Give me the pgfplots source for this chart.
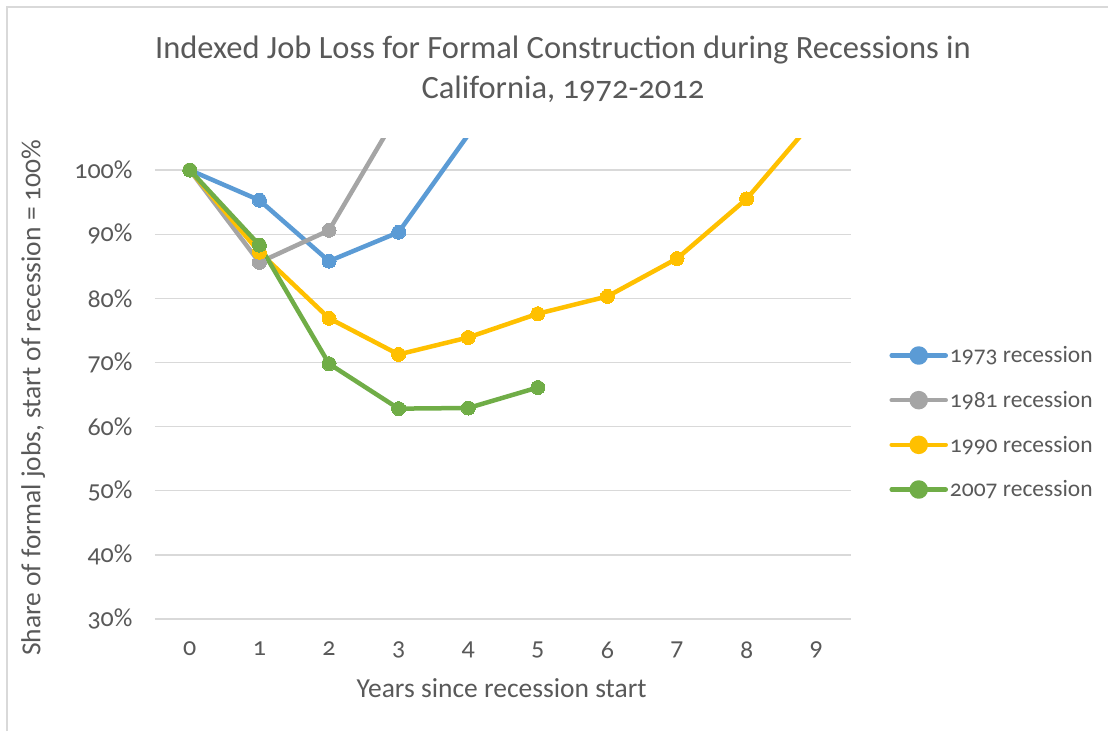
\documentclass[border=0pt]{standalone}
\usepackage{pgfplots}
\pgfplotsset{compat=1.18}
\usepackage{fontspec}
\setmainfont[Numbers=OldStyle]{Carlito}
\definecolor{txt}{HTML}{595959}
\definecolor{gridc}{HTML}{D9D9D9}
\definecolor{cA}{HTML}{5B9BD5}
\definecolor{cB}{HTML}{A5A5A5}
\definecolor{cC}{HTML}{FFC000}
\definecolor{cD}{HTML}{70AD47}
\begin{document}
\begin{tikzpicture}[x=1pt,y=1pt]
\path[use as bounding box] (-155,-112) rectangle (953,619);
\draw[gridc, line width=1.2pt] (-148,-112) -- (-148,612) -- (953,612);
\begin{axis}[
  at={(0,0)}, anchor=south west,
  scale only axis, width=696pt, height=481pt,
  xmin=-0.5, xmax=9.5, ymin=30, ymax=105,
  axis line style={draw=none},
  major tick length=0pt,
  xtick={0,...,9},
  ytick={30,40,...,100},
  yticklabel={\pgfmathprintnumber{\tick}\%},
  /pgf/number format/assume math mode=true,
  xmajorgrids=false,
  ymajorgrids=true, major grid style={draw=gridc, line width=1.3pt},
  ticklabel style={font=\fontsize{26}{30}\selectfont, text=txt},
  xticklabel style={yshift=-19pt},
  yticklabel style={xshift=-19pt},
  xlabel={Years since recession start},
  ylabel={Share of formal jobs, start of recession = 100\%},
  label style={font=\fontsize{27.5}{32}\selectfont, text=txt},
  xlabel style={at={(axis description cs:0.498,-0.143)}, anchor=center},
  ylabel style={at={(axis description cs:-0.175,0.46)}, anchor=center},
  clip=true,
  legend style={at={(1.055,0.4085)}, anchor=west, draw=none, fill=none,
    font=\fontsize{23.5}{28}\selectfont, text=txt,
    row sep=23pt, inner sep=0pt},
  legend cell align=left,
  legend image code/.code={
    \draw[#1, line width=4.5pt, line cap=round] (0pt,0pt) -- (54pt,0pt);
    \fill[#1] (27pt,0pt) circle (7pt);
  },
  every axis plot/.append style={line width=4.5pt, line join=round},
  title style={font=\fontsize{32.5}{40}\selectfont, text=txt, align=center, xshift=60pt, yshift=26pt},
  title={Indexed Job Loss for Formal Construction during Recessions in\\California, 1972-2012},
]
% continuation segments beyond the top of the axis (no markers)
\addplot[cA, forget plot] coordinates {(3,90.3) (4,105.5) (5,118)};
\addplot[cB, forget plot] coordinates {(2,90.6) (3,109)};
\addplot[cC, forget plot] coordinates {(8,95.5) (9,108.2)};
% main series
\addplot[cA, mark=*, mark size=7pt, mark options={fill=cA, draw=cA, line width=0pt}] coordinates {(0,100) (1,95.3) (2,85.8) (3,90.3)};
\addlegendentry{1973 recession}
\addplot[cB, mark=*, mark size=7pt, mark options={fill=cB, draw=cB, line width=0pt}] coordinates {(0,100) (1,85.6) (2,90.6)};
\addlegendentry{1981 recession}
\addplot[cC, mark=*, mark size=7pt, mark options={fill=cC, draw=cC, line width=0pt}] coordinates {(0,100) (1,87.2) (2,76.9) (3,71.25) (4,73.9) (5,77.6) (6,80.3) (7,86.2) (8,95.5)};
\addlegendentry{1990 recession}
\addplot[cD, mark=*, mark size=7pt, mark options={fill=cD, draw=cD, line width=0pt}] coordinates {(0,100) (1,88.3) (2,69.8) (3,62.8) (4,62.9) (5,66.1)};
\addlegendentry{2007 recession}
\end{axis}
\end{tikzpicture}
\end{document}
